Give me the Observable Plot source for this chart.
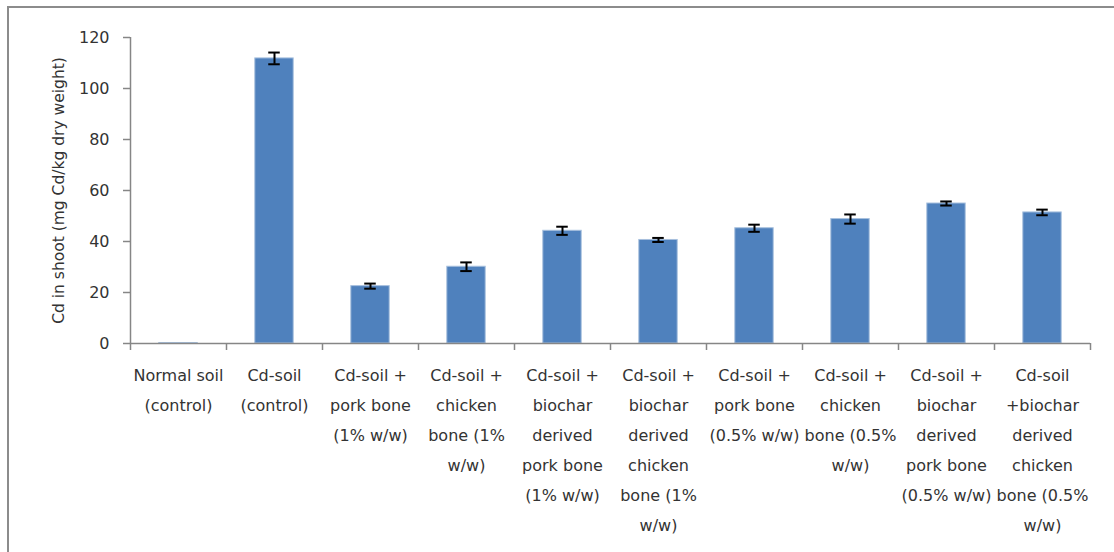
<!DOCTYPE html>
<html>
<head>
<meta charset="utf-8">
<script src="https://cdn.jsdelivr.net/npm/d3@7"></script>
<script src="https://cdn.jsdelivr.net/npm/@observablehq/plot@0.6"></script>
<style>
  html, body { margin: 0; padding: 0; background: #fff; overflow: hidden; }
  #wrap { position: relative; width: 1114px; height: 552px; }
  #frame { position: absolute; left: 7px; top: 6px; width: 1200px; height: 600px;
           border-left: 2px solid #8c8c8c; border-top: 2px solid #8c8c8c; box-sizing: border-box; }
  #chart { position: absolute; left: 0; top: 0; }
  #chart svg g[aria-label="y-axis label"] text { font-size: 15.5px; }
</style>
</head>
<body>
<div id="wrap"><div id="chart"></div><div id="frame"></div></div>
<script>
const categories = [
  "Normal soil\n(control)",
  "Cd-soil\n(control)",
  "Cd-soil +\npork bone\n(1% w/w)",
  "Cd-soil +\nchicken\nbone (1%\nw/w)",
  "Cd-soil +\nbiochar\nderived\npork bone\n(1% w/w)",
  "Cd-soil +\nbiochar\nderived\nchicken\nbone (1%\nw/w)",
  "Cd-soil +\npork bone\n(0.5% w/w)",
  "Cd-soil +\nchicken\nbone (0.5%\nw/w)",
  "Cd-soil +\nbiochar\nderived\npork bone\n(0.5% w/w)",
  "Cd-soil\n+biochar\nderived\nchicken\nbone (0.5%\nw/w)"
];
const values = [0.2, 111.8, 22.5, 30.1, 44.2, 40.6, 45.2, 48.8, 54.9, 51.4];
const errors = [0, 2.3, 1.0, 1.7, 1.6, 0.8, 1.4, 1.8, 0.8, 1.1];
const yTicks = [0, 20, 40, 60, 80, 100, 120];
const yLabel = "Cd in shoot (mg Cd/kg dry weight)";

const data = categories.map((c, i) => ({i, c, v: values[i], e: errors[i]}));
const withErr = data.filter(d => d.e > 0);
const font = "DejaVu Sans, sans-serif";

const chart = Plot.plot({
  width: 1114,
  height: 552,
  marginLeft: 130,
  marginRight: 24,
  marginTop: 37,
  marginBottom: 209,
  style: {fontFamily: font, fontSize: "16px", color: "#333", background: "transparent"},
  x: {type: "linear", domain: [0, categories.length]},
  y: {domain: [0, 120]},
  marks: [
    Plot.rectY(data, {x1: d => d.i + 0.3, x2: d => d.i + 0.7, y1: 0, y2: "v",
      fill: "#4f81bd", stroke: "#a7c0de", strokeWidth: 1}),
    Plot.ruleX(withErr, {x: d => d.i + 0.5, y1: d => d.v - d.e, y2: d => d.v + d.e, stroke: "#000", strokeWidth: 2}),
    Plot.ruleY(withErr, {y: d => d.v - d.e, x1: d => d.i + 0.44, x2: d => d.i + 0.56, stroke: "#000", strokeWidth: 2}),
    Plot.ruleY(withErr, {y: d => d.v + d.e, x1: d => d.i + 0.44, x2: d => d.i + 0.56, stroke: "#000", strokeWidth: 2}),
    Plot.axisY({ticks: yTicks, tickSize: 7, tickPadding: 14, stroke: "#868686", strokeWidth: 1.5,
      fill: "#333", fontSize: 16, label: yLabel, labelAnchor: "center", labelArrow: "none", labelOffset: 78}),
    Plot.axisX({ticks: d3.range(categories.length + 1), tickSize: 7, tickFormat: () => "",
      stroke: "#868686", strokeWidth: 1.5, label: null}),
    Plot.axisX({ticks: data.map(d => d.i + 0.5), tickSize: 0, tickPadding: 16,
      tickFormat: x => categories[Math.floor(x)], lineHeight: 1.875, fontSize: 16, fill: "#333", label: null}),
    Plot.ruleY([0], {stroke: "#868686", strokeWidth: 1.5}),
    Plot.ruleX([0], {stroke: "#868686", strokeWidth: 1.5})
  ]
});
document.getElementById("chart").appendChild(chart);
</script>
</body>
</html>
